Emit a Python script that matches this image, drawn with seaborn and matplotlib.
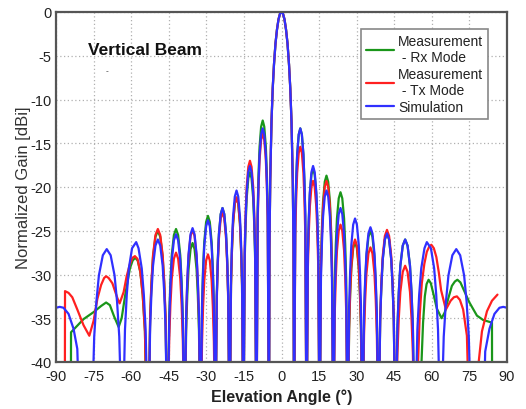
import numpy as np
import pandas as pd
import matplotlib
matplotlib.use('Agg')
import matplotlib.pyplot as plt
import seaborn as sns

# values: elevation angle (deg) and normalized gain (dB)
# -50 marks the deep nulls that fall below the -40 dB floor of the axis

# sample angles shared by the three curves from -53 to +53 deg (sidelobes + main lobe)
core_angle = [
    -53.2, -52.43, -51.89, -51.28, -50.31, -49.35, -48.39, -47.43, -46.81, -46.27,
    -45.5, -44.82, -44.34, -43.8, -42.95, -42.1, -41.25, -40.4, -39.86, -39.38,
    -38.7, -38.06, -37.61, -37.1, -36.3, -35.5, -34.7, -33.9, -33.39, -32.94,
    -32.3, -31.71, -31.3, -30.83, -30.09, -29.35, -28.61, -27.88, -27.4, -26.99,
    -26.4, -25.83, -25.43, -24.98, -24.26, -23.55, -22.84, -22.13, -21.67, -21.27,
    -20.7, -20.15, -19.77, -19.33, -18.64, -17.95, -17.26, -16.58, -16.14, -15.75,
    -15.2, -14.68, -14.32, -13.9, -13.25, -12.6, -11.95, -11.3, -10.88, -10.52,
    -10, -9.5, -9.15, -8.75, -8.13, -7.5, -6.88, -6.25, -5.85, -5.5,
    -5, -4.8, -4.5, -4, -3.5, -3, -2.4, -1.8, -1.2, -0.6, 0, 0.6, 1.2, 1.8, 2.4, 3, 3.5, 4, 4.5, 4.8,
    5, 5.5, 5.85, 6.25, 6.88, 7.5, 8.13, 8.75, 9.15, 9.5,
    10, 10.52, 10.88, 11.3, 11.95, 12.6, 13.25, 13.9, 14.32, 14.68,
    15.2, 15.75, 16.14, 16.58, 17.26, 17.95, 18.64, 19.33, 19.77, 20.15,
    20.7, 21.27, 21.67, 22.13, 22.84, 23.55, 24.26, 24.98, 25.43, 25.83,
    26.4, 26.99, 27.4, 27.88, 28.61, 29.35, 30.09, 30.83, 31.3, 31.71,
    32.3, 32.94, 33.39, 33.9, 34.7, 35.5, 36.3, 37.1, 37.61, 38.06,
    38.7, 39.38, 39.86, 40.4, 41.25, 42.1, 42.95, 43.8, 44.34, 44.82,
    45.5, 46.27, 46.81, 47.43, 48.39, 49.35, 50.31, 51.28, 51.89, 52.43,
    53.2,
]

sim_core = [
    -50, -36, -32, -29, -26.7, -26, -26.7, -29, -32, -36,
    -50, -35.4, -31.4, -28.4, -26.1, -25.4, -26.1, -28.4, -31.4, -35.4,
    -50, -34.7, -30.7, -27.7, -25.4, -24.7, -25.4, -27.7, -30.7, -34.7,
    -50, -33.8, -29.8, -26.8, -24.5, -23.8, -24.5, -26.8, -29.8, -33.8,
    -50, -32.4, -28.4, -25.4, -23.1, -22.4, -23.1, -25.4, -28.4, -32.4,
    -50, -30.4, -26.4, -23.4, -21.1, -20.4, -21.1, -23.4, -26.4, -30.4,
    -50, -27.6, -23.6, -20.6, -18.3, -17.6, -18.3, -20.6, -23.6, -27.6,
    -50, -23.3, -19.3, -16.3, -14.0, -13.3, -14.0, -16.3, -19.3, -23.3,
    -50, -27, -19.3, -12.6, -8.7, -6, -3.6, -2.0, -0.85, -0.2, 0, -0.2, -0.85, -2.0, -3.6, -6, -8.7, -12.6, -19.3, -27,
    -50, -23.3, -19.3, -16.3, -14.0, -13.3, -14.0, -16.3, -19.3, -23.3,
    -50, -27.6, -23.6, -20.6, -18.3, -17.6, -18.3, -20.6, -23.6, -27.6,
    -50, -30.4, -26.4, -23.4, -21.1, -20.4, -21.1, -23.4, -26.4, -30.4,
    -50, -32.4, -28.4, -25.4, -23.1, -22.4, -23.1, -25.4, -28.4, -32.4,
    -50, -33.6, -29.6, -26.6, -24.3, -23.6, -24.3, -26.6, -29.6, -33.6,
    -50, -34.6, -30.6, -27.6, -25.3, -24.6, -25.3, -27.6, -30.6, -34.6,
    -50, -35.3, -31.3, -28.3, -26.0, -25.3, -26.0, -28.3, -31.3, -35.3,
    -50, -36, -32, -29, -26.7, -26, -26.7, -29, -32, -36,
    -50,
]

rx_core = [
    -50, -35, -31, -28, -25.7, -25, -25.7, -28, -31, -35,
    -50, -34.8, -30.8, -27.8, -25.5, -24.8, -25.5, -27.8, -30.8, -34.8,
    -50, -36.4, -32.4, -29.4, -27.1, -26.4, -27.1, -29.4, -32.4, -36.4,
    -50, -33.3, -29.3, -26.3, -24.0, -23.3, -24.0, -26.3, -29.3, -33.3,
    -50, -32.4, -28.4, -25.4, -23.1, -22.4, -23.1, -25.4, -28.4, -32.4,
    -50, -31.2, -27.2, -24.2, -21.9, -21.2, -21.9, -24.2, -27.2, -31.2,
    -50, -28.3, -24.3, -21.3, -19.0, -18.3, -19.0, -21.3, -24.3, -28.3,
    -50, -22.4, -18.4, -15.4, -13.1, -12.4, -13.1, -15.4, -18.4, -22.4,
    -50, -27, -19.3, -12.6, -8.7, -6, -3.6, -2.0, -0.85, -0.2, 0, -0.2, -0.85, -2.0, -3.6, -6, -8.7, -12.6, -19.3, -27,
    -50, -23.3, -19.3, -16.3, -14.0, -13.3, -14.0, -16.3, -19.3, -23.3,
    -50, -27.9, -23.9, -20.9, -18.6, -17.9, -18.6, -20.9, -23.9, -27.9,
    -50, -28.7, -24.7, -21.7, -19.4, -18.7, -19.4, -21.7, -24.7, -28.7,
    -50, -30.6, -26.6, -23.6, -21.3, -20.6, -21.3, -23.6, -26.6, -30.6,
    -50, -36.3, -32.3, -29.3, -27.0, -26.3, -27.0, -29.3, -32.3, -36.3,
    -50, -35, -31, -28, -25.7, -25, -25.7, -28, -31, -35,
    -50, -35.3, -31.3, -28.3, -26.0, -25.3, -26.0, -28.3, -31.3, -35.3,
    -50, -36, -32, -29, -26.7, -26, -26.7, -29, -32, -36,
    -50,
]

tx_core = [
    -50, -34.8, -30.8, -27.8, -25.5, -24.8, -25.5, -27.8, -30.8, -34.8,
    -50, -37.5, -33.5, -30.5, -28.2, -27.5, -28.2, -30.5, -33.5, -37.5,
    -50, -34.9, -30.9, -27.9, -25.6, -24.9, -25.6, -27.9, -30.9, -34.9,
    -50, -37.7, -33.7, -30.7, -28.4, -27.7, -28.4, -30.7, -33.7, -37.7,
    -50, -32.9, -28.9, -25.9, -23.6, -22.9, -23.6, -25.9, -28.9, -32.9,
    -50, -31.2, -27.2, -24.2, -21.9, -21.2, -21.9, -24.2, -27.2, -31.2,
    -50, -27, -23, -20, -17.7, -17, -17.7, -20, -23, -27,
    -50, -23.9, -19.9, -16.9, -14.6, -13.9, -14.6, -16.9, -19.9, -23.9,
    -50, -27, -19.3, -12.6, -8.7, -6, -3.6, -2.0, -0.85, -0.2, 0, -0.2, -0.85, -2.0, -3.6, -6, -8.7, -12.6, -19.3, -27,
    -50, -25.4, -21.4, -18.4, -16.1, -15.4, -16.1, -18.4, -21.4, -25.4,
    -50, -29.3, -25.3, -22.3, -20.0, -19.3, -20.0, -22.3, -25.3, -29.3,
    -50, -29.3, -25.3, -22.3, -20.0, -19.3, -20.0, -22.3, -25.3, -29.3,
    -50, -34.3, -30.3, -27.3, -25.0, -24.3, -25.0, -27.3, -30.3, -34.3,
    -50, -36, -32, -29, -26.7, -26, -26.7, -29, -32, -36,
    -50, -36.9, -32.9, -29.9, -27.6, -26.9, -27.6, -29.9, -32.9, -36.9,
    -50, -34.9, -30.9, -27.9, -25.6, -24.9, -25.6, -27.9, -30.9, -34.9,
    -50, -39, -35, -32, -29.7, -29, -29.7, -32, -35, -39,
    -50,
]

# wide-angle parts, (angle, gain)
sim_left_tail = [
    (-90, -33.8), (-88.5, -33.7), (-87, -33.8), (-85, -34.5), (-83, -36.2), (-81.5, -38.5), (-80.3, -50),
    (-76, -50), (-74.75, -37.1), (-73.88, -33.1), (-72.88, -30.1), (-71.31, -27.8), (-69.75, -27.1),
    (-68.19, -27.8), (-66.63, -30.1), (-65.63, -33.1), (-64.75, -37.1), (-63.5, -50),
    (-62.47, -36.3), (-61.75, -32.3), (-60.93, -29.3), (-59.64, -27.0), (-58.0, -26.3),
    (-57.06, -27.0), (-55.78, -29.3), (-54.95, -32.3), (-54.23, -36.3),
]
sim_right_tail = [
    (54.23, -36.3), (54.95, -32.3), (55.78, -29.3), (57.06, -27.0), (58.0, -26.3),
    (59.64, -27.0), (60.93, -29.3), (61.75, -32.3), (62.47, -36.3), (63.5, -50),
    (64.75, -37.1), (65.63, -33.1), (66.63, -30.1), (68.19, -27.8), (69.75, -27.1),
    (71.31, -27.8), (72.88, -30.1), (73.88, -33.1), (74.75, -37.1), (76, -50),
    (80.4, -50), (81.3, -38.8), (83, -36.2), (85, -34.5), (87, -33.8), (88.5, -33.7), (90, -33.8),
]
rx_left_tail = [
    (-84.1, -50), (-84, -36.6), (-82, -36.0), (-79, -35.1), (-75, -34.3), (-72, -33.6), (-70, -33.2),
    (-68.5, -33.5), (-66.8, -34.8), (-65, -36.0), (-63.8, -35.0), (-62.3, -32.2), (-60.5, -29.3),
    (-59.4, -28.4), (-58.4, -28.1), (-57.4, -28.4), (-56.3, -29.8), (-55.4, -32.3), (-54.5, -36.5),
    (-53.6, -50),
]
rx_right_tail = [
    (54.5, -50), (55.9, -40), (56.5, -35.5), (57.2, -32.5), (57.9, -31.1), (58.7, -30.6), (59.6, -31.0),
    (60.7, -32.3), (62, -33.9), (63.9, -35.0), (65.2, -34.3), (66.5, -32.8), (68, -31.3), (69.2, -30.8),
    (70.2, -30.6), (71.4, -30.9), (72.8, -31.8), (75, -33.2), (78, -34.7), (80.5, -35.2), (84, -35.5),
    (84.1, -50),
]
tx_left_tail = [
    (-86.5, -50), (-86.4, -31.9), (-85, -32.1), (-83.5, -32.6), (-81.5, -34), (-79, -35.8), (-76.7, -37.0),
    (-75, -35.3), (-73.5, -32.8), (-72, -31.2), (-70.8, -30.4), (-70, -30.2), (-69, -30.4), (-67.5, -31.0),
    (-65.5, -32.7), (-64.6, -33.3), (-63, -32), (-61.8, -30.2), (-60.5, -28.8), (-59.5, -28.1),
    (-58.5, -27.9), (-57.5, -28.2), (-56.4, -29.6), (-55.4, -32.3), (-54.5, -36.5), (-53.6, -50),
]
tx_right_tail = [
    (53.8, -50), (54.5, -40), (55.2, -34.5), (56, -31), (57, -28.8), (58, -27.4), (59, -26.8), (59.8, -26.6),
    (60.8, -27), (61.8, -28), (62.8, -29.8), (63.7, -31.8), (65.6, -34.0), (67.5, -33.0), (68.8, -32.6),
    (70, -32.5), (71.2, -32.9), (72.5, -34), (74, -37), (75.2, -50),
    (78.3, -50), (78.7, -40), (80, -36.5), (82, -34.2), (84, -33), (86.2, -32.3),
]

labels = ['Measurement\n - Rx Mode', 'Measurement\n - Tx Mode', 'Simulation']
colors = ['#1a961a', '#ff2020', '#3030ff']


def build(name, left_tail, core, right_tail):
    lt = np.array(left_tail)
    rt = np.array(right_tail)
    x = np.concatenate([lt[:, 0], core_angle, rt[:, 0]])
    y = np.concatenate([lt[:, 1], core, rt[:, 1]])
    return pd.DataFrame({'angle': x, 'gain': y, 'series': name})


df = pd.concat([
    build(labels[0], rx_left_tail, rx_core, rx_right_tail),
    build(labels[1], tx_left_tail, tx_core, tx_right_tail),
    build(labels[2], sim_left_tail, sim_core, sim_right_tail),
], ignore_index=True)

sns.set_style('white')
plt.rcParams['font.family'] = ['Liberation Sans', 'DejaVu Sans']
plt.rcParams['axes.unicode_minus'] = False

fig = plt.figure(figsize=(5.26, 4.10), dpi=100)
ax = fig.add_axes([56 / 526, 47 / 410, 451 / 526, 350 / 410])

sns.lineplot(data=df, x='angle', y='gain', hue='series', hue_order=labels,
             palette=dict(zip(labels, colors)), sort=False, estimator=None,
             linewidth=1.6, ax=ax)

ax.set_xlim(-90, 90)
ax.set_ylim(-40, 0)
ax.set_xticks(np.arange(-90, 91, 15))
ax.set_yticks(np.arange(-40, 1, 5))
ax.grid(True, color='#b0b0b0', linestyle=(0, (1, 2)), linewidth=0.9)
ax.tick_params(length=0, labelsize=10.5, labelcolor='#222222')
ax.tick_params(axis='x', pad=5)
ax.tick_params(axis='y', pad=3)
for sp in ax.spines.values():
    sp.set_color('#555555')
    sp.set_linewidth(1.6)

ax.set_xlabel('Elevation Angle (°)', fontsize=11.5, fontweight='bold', color='#222222', labelpad=4)
ax.set_ylabel('Normalized Gain [dBi]', fontsize=12, color='#333333', labelpad=0)

ax.text(-77.2, -4.8, 'Vertical Beam', fontsize=12.5, fontweight='bold', color='#111111')
ax.text(-70.3, -6.9, '-', fontsize=6, color='#333333')

handles, _ = ax.get_legend_handles_labels()
leg = ax.legend(handles, labels, loc='upper right', bbox_to_anchor=(0.958, 0.951),
                fontsize=10, frameon=True, fancybox=False, framealpha=1,
                edgecolor='#888888', handlelength=2.0, handletextpad=0.3,
                labelspacing=0.2, borderpad=0.35, borderaxespad=0)
leg.get_frame().set_linewidth(1.2)
for t in leg.get_texts():
    t.set_color('#222222')

fig.savefig('out.png', dpi=100)
